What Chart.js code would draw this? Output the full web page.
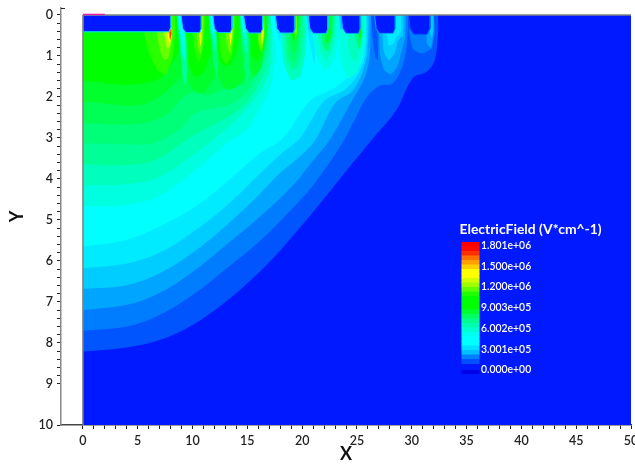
<!DOCTYPE html>
<html><head><meta charset="utf-8">
<style>html,body{margin:0;padding:0;background:#fff}#w{width:635px;height:465px}</style>
<script src="https://cdn.jsdelivr.net/npm/chart.js@4/dist/chart.umd.min.js"></script>
</head><body><div id="w"><canvas id="c" width="635" height="465"></canvas></div>
<script>
const xTickValues=[0,5,10,15,20,25,30,35,40,45,50];
const yTickValues=[0,1,2,3,4,5,6,7,8,9,10];
const xMinorValues=[1,2,3,4,6,7,8,9,11,12,13,14,16,17,18,19,21,22,23,24,26,27,28,29,31,32,33,34,36,37,38,39,41,42,43,44,46,47,48,49];
const yMinorValues=[.2,.4,.6,.8,1.2,1.4,1.6,1.8,2.2,2.4,2.6,2.8,3.2,3.4,3.6,3.8,4.2,4.4,4.6,4.8,5.2,5.4,5.6,5.8,6.2,6.4,6.6,6.8,7.2,7.4,7.6,7.8,8.2,8.4,8.6,8.8];
const legendTitle="ElectricField (V*cm^-1)";
const legendLabels=["1.801e+06","1.500e+06","1.200e+06","9.003e+05","6.002e+05","3.001e+05","0.000e+00"];
const bandColors=["#0019ff","#0055ff","#007dff","#00a5ff","#00cdff","#00ebff","#00ffff","#00ffe1","#00ffbe","#00ff96","#00ff78","#00ff55","#00ff2d","#00ff00","#28ff00","#64ff00","#b4ff00","#ffff00","#ffbe00","#ff6e00","#ff1e00"];
const colorbarStops=["#ff0000","#ff0a00","#ff3000","#ff7000","#ffa000","#ffd000","#ffff00","#ffff00","#d0ff00","#a0ff00","#60ff00","#20ff00","#00ff00","#00ff00","#00ff00","#00ff30","#00ff60","#00ff90","#00ffb0","#00ffd0","#00fff0","#00ffff","#00ffff","#00e0ff","#00c0ff","#0080ff","#0050ff"];

const plotArea=[[0,10],[50,10],[50,0],[0,0]];
/* main contours, each running from the left edge to the top edge */
const c1=[[0,8.21],[4,8.11],[7,7.93],[10,7.56],[13,7],[16,6.3],[18.3,5.65],[21.3,4.71],[24.4,3.68],[26.5,3.0],[28.6,2.32],[30.1,1.54],[31.4,1.38],[32.1,1.1],[32.4,.45],[32.4,0]];
const c2=[[0,7.7],[4,7.6],[7,7.32],[10,6.83],[13,6.2],[16,5.55],[19,4.75],[21,4.15],[23.6,3.15],[24.8,2.55],[25.9,2],[27.1,1.72],[28.2,1.68],[29,1.35],[29.5,.85],[29.65,.3],[29.65,0]];
const c3=[[0,7.2],[4,7.07],[7,6.78],[10,6.27],[13,5.62],[16,4.95],[19,4.2],[21,3.55],[22.5,3.05],[24.6,2.07],[25.6,1.6],[26.05,1.2],[26.2,.9],[26.25,0]];
const c4=[[0,6.68],[4,6.59],[7,6.3],[10,5.8],[13,5.15],[16,4.4],[18,3.85],[20,3.4],[21.2,3.05],[23,2.15],[24.6,1.85],[25.5,1.4],[25.95,.9],[26.05,0]];
const c5=[[0,6.18],[4,6.06],[7,5.8],[10,5.3],[13,4.68],[16,3.9],[18,3.4],[19.8,3],[22,2.1],[24,1.8],[25.3,1.35],[25.8,.9],[25.85,0]];
const c6=[[0,5.65],[4,5.49],[7,5.16],[10,4.72],[13,4.1],[16,3.4],[18.25,3],[20.7,2.1],[23.1,1.75],[25.2,1.25],[25.6,.9],[25.6,0]];
const c7=[[0,4.66],[3.98,4.63],[7,4.4],[10,3.85],[13,3.15],[14.9,2.8],[16,2.35],[17,1.85],[17.5,1.2],[17.6,.5],[17.5,0]];
const c8=[[0,4.15],[3.98,4.13],[7,3.95],[10,3.43],[13,2.8],[14.7,2.35],[16.1,1.9],[17,1.4],[17.25,.5],[17.25,0]];
const c9=[[0,3.64],[3.98,3.66],[6.5,3.55],[9.5,3.03],[11,2.8],[12.5,2.6],[14.5,2.25],[16,1.7],[16.9,1.1],[17.1,.4],[17.1,0]];
const c10=[[0,3.13],[3.98,3.15],[6.4,3.13],[8.8,2.8],[10.2,2.4],[11.5,2.3],[13.2,2.2],[14.7,1.95],[16,1.45],[16.7,.9],[16.9,0]];
const c11=[[0,2.64],[5,2.66],[7.5,2.45],[9.2,2],[10,1.9],[11.5,1.95],[12.5,1.85],[13.5,1.75],[15,1.65],[16.2,1.1],[16.7,0]];
const c12=[[0,2.11],[5,2.2],[7.2,1.95],[8.7,1.6],[9.3,1.45],[10,1.8],[11,1.9],[11.8,1.6],[12.3,1.5],[13,1.8],[14,1.75],[15,1.4],[15.9,.8],[16.2,0]];
const c13=[[0,1.6],[4,1.7],[7,1.55],[8.3,1.1],[8.9,.9],[9.5,1.1],[10.2,1.5],[11,1.4],[11.6,1],[12.2,.9],[12.7,1.2],[13.5,1.2],[14.1,.8],[14.3,0]];
/* closed lobes under the contacts */
const r9a=[[29.8,.2],[29.8,.49],[30.1,.83],[30.9,.94],[31.8,.82],[32.1,.41],[32,0],[31.65,0]];
const r9b=[[31.3,.3],[31.4,.7],[31.75,.8],[31.95,.5],[32,0],[31.65,0]];
const r9c=[[31.65,0],[31.95,0],[31.95,.4],[31.8,.55],[31.65,.4]];
const s7a=[[26.3,0],[26.75,0],[26.88,.6],[26.92,1.1],[26.7,1.05],[26.45,.6]];
const r8b=[[27,.4],[27.1,1],[27.5,1.35],[28.1,1.45],[28.7,1.25],[29.1,.85],[29.4,.5],[29.4,0],[28.5,0]];
const r8c=[[27.3,.4],[27.45,.9],[27.9,1.1],[28.4,.95],[28.8,.6],[29.2,.5],[29.2,0],[28.5,0]];
const r8d=[[27.7,.4],[27.9,.75],[28.3,.7],[28.6,.55],[29,.4],[29,0],[28.5,0]];
const r7a=[[23.3,.4],[23.5,1.1],[24.2,1.55],[25,1.4],[25.6,.9],[25.85,.4],[25.8,0],[25.3,0]];
const r7b=[[24.1,.4],[24.3,.95],[24.9,1.15],[25.4,.7],[25.6,.3],[25.55,0],[25.3,0]];
const r7c=[[24.8,.4],[25,.7],[25.25,.85],[25.45,.55],[25.45,0],[25.3,0]];
const r7d=[[25.2,.4],[25.25,.65],[25.4,.45],[25.4,0],[25.3,0]];
const r6a=[[21,.4],[21.3,.98],[22.2,1.35],[23,1.05],[23.3,.6],[23.3,0],[22.35,0]];
const r6b=[[21.4,.4],[21.6,.85],[22.2,1.1],[22.8,.85],[23.05,.4],[23.1,0],[22.35,0]];
const r6c=[[21.7,.4],[21.9,.75],[22.3,.9],[22.7,.6],[22.9,.3],[22.9,0],[22.35,0]];
const r6d=[[22,.4],[22.2,.7],[22.55,.6],[22.7,.3],[22.7,0],[22.35,0]];
const r5a=[[18.1,.4],[18.3,1.15],[19,1.6],[19.8,1.5],[20.25,1],[20.4,.4],[20.3,0],[19.35,0]];
const r5b=[[18.4,.4],[18.6,1.05],[19.1,1.35],[19.7,1.25],[20,.8],[20.1,0],[19.35,0]];
const r5c=[[18.6,.4],[18.75,.95],[19.15,1.2],[19.6,1],[19.85,.5],[19.9,0],[19.35,0]];
const r5d=[[18.8,.4],[18.95,.8],[19.3,.95],[19.6,.7],[19.75,.3],[19.8,0],[19.35,0]];
const r5e=[[19.05,.4],[19.2,.65],[19.5,.55],[19.65,.2],[19.65,0],[19.35,0]];
const r5f=[[19.3,.42],[19.4,.6],[19.55,.4],[19.5,0],[19.35,0]];
const r4a=[[14.9,.4],[15,1.1],[15.6,1.5],[16.2,1.3],[16.7,.7],[16.9,0],[16.4,0]];
const r4b=[[15.3,.4],[15.4,.95],[15.9,1.15],[16.4,.85],[16.7,.35],[16.7,0],[16.4,0]];
const r4c=[[15.95,.4],[16.05,.75],[16.3,.9],[16.55,.5],[16.55,0],[16.4,0]];
const r4d=[[16.25,.42],[16.35,.72],[16.48,.45],[16.48,.2],[16.4,.2]];
const r3a=[[12.4,.4],[12.6,1],[13.1,1.2],[13.6,.95],[13.85,.4],[13.9,0],[13.6,0]];
const r3b=[[13,.4],[13.15,.75],[13.45,.95],[13.7,.5],[13.75,0],[13.6,0]];
const r3c=[[13.35,.42],[13.45,.75],[13.62,.45],[13.62,.2],[13.55,.2]];
const r2a=[[10,.4],[10.2,.9],[10.6,1.15],[11,.75],[11.1,.3],[11.1,0],[10.8,0]];
const r2b=[[10.35,.4],[10.5,.8],[10.75,.95],[10.95,.5],[11,0],[10.8,0]];
const r2c=[[10.6,.42],[10.72,.78],[10.86,.45],[10.86,.2],[10.78,.2]];
const r2d=[[10.72,.42],[10.78,.6],[10.85,.42]];
const r1a=[[5.5,.4],[6,.9],[6.8,1.35],[7.6,1.45],[8.2,1],[8.4,.5],[8.4,0],[8,0]];
const r1b=[[6.7,.4],[7,.85],[7.4,1.1],[7.8,1.05],[8.1,.65],[8.15,.2],[8.05,0]];
const r1c=[[7.4,.4],[7.55,.7],[7.75,.82],[8,.7],[8.15,.4],[8.05,.1]];
const r1d=[[7.7,.4],[7.78,.6],[7.92,.7],[8.08,.5],[8.1,.2],[8,.2]];
const r1e=[[7.8,.4],[7.88,.56],[8,.62],[8.12,.4],[8.1,.2],[8,.2]];
const r1f=[[7.85,.4],[7.95,.6],[8.08,.45],[8.05,.3],[7.95,.3]];
const r1g=[[7.95,.42],[8,.6],[8.05,.42]];
/* low-field streaks under the right side of each gap */
const s1a=[[8.55,0],[9.1,0],[9.45,.6],[9.5,1.4],[9.35,1.75],[9.1,1.5],[8.85,.8]];
const s1b=[[8.6,0],[9,0],[9.35,.6],[9.35,1.1],[9.1,1],[8.85,.5]];
const s1c=[[8.65,0],[8.9,0],[9.25,.5],[9.2,.7],[8.95,.45]];
const s2a=[[11.45,0],[11.9,0],[12.25,.6],[12.35,1.3],[12.2,1.55],[11.95,1.2],[11.65,.6]];
const s2b=[[11.5,0],[11.85,0],[12.15,.5],[12.15,.9],[11.95,.7],[11.65,.4]];
const s2c=[[11.55,0],[11.8,0],[12.05,.4],[11.85,.45]];
const s3a=[[14.3,0],[14.7,0],[15.15,.6],[15.2,1.4],[15,1.8],[14.7,1.3],[14.45,.6]];
const s3b=[[14.35,0],[14.65,0],[15,.5],[15,.95],[14.75,.75],[14.45,.4]];
const s3c=[[14.4,0],[14.6,0],[14.9,.4],[14.65,.45]];
const s4a=[[17.1,0],[17.6,0],[18.2,.5],[18.3,1.4],[18.2,1.8],[17.9,1.3],[17.5,.6],[17.2,.3]];
const s4b=[[17.45,0],[17.6,0],[18.05,.45],[18,.7],[17.7,.4]];
const s5a=[[20.35,0],[20.6,0],[21,.5],[21.2,1],[21.1,1.2],[20.8,.8],[20.5,.4]];
const s5b=[[20.45,0],[20.6,0],[20.9,.4],[20.65,.4]];
const s6a=[[23.3,0],[23.55,0],[24,.5],[24.2,1.1],[24,1.25],[23.7,.8],[23.4,.4]];
const s6b=[[23.35,0],[23.55,0],[23.95,.45],[24,.85],[23.8,.65],[23.5,.35]];
/* depleted contact blocks along the top */
const b1=[[0,0],[8.05,0],[8.05,.28],[7.85,.41],[0,.41]];
const b2=[[8.95,0],[10.8,0],[10.8,.33],[10.65,.43],[9.4,.43],[9.1,.33]];
const b3=[[11.85,0],[13.6,0],[13.6,.33],[13.45,.43],[12.3,.43],[12,.33]];
const b4=[[14.65,0],[16.4,0],[16.4,.33],[16.25,.44],[15.15,.44],[14.85,.33]];
const b5=[[17.55,0],[19.35,0],[19.35,.33],[19.2,.44],[18,.44],[17.7,.33]];
const b6=[[20.55,0],[22.35,0],[22.35,.33],[22.2,.45],[21,.45],[20.7,.33]];
const b7=[[23.55,0],[25.3,0],[25.3,.33],[25.15,.45],[24,.45],[23.7,.33]];
const b8=[[26.6,0],[28.5,0],[28.5,.33],[28.3,.45],[27.05,.45],[26.75,.33]];
const b9=[[29.7,0],[31.65,0],[31.65,.33],[31.4,.47],[30.15,.47],[29.85,.33]];

const contours=[[c1,1],[c2,2],[c3,3],[c4,4],[c5,5],[c6,6],[c7,7],[c8,8],[c9,9],[c10,10],[c11,11],[c12,12],[c13,13]];
const lobes=[[r9a,2],[r9b,3],[r9c,4],[s7a,1],[r8b,3],[r8c,4],[r8d,5],[s6a,5],[s6b,4],[r7a,7],[r7b,8],[r7c,10],[r7d,13],[s5a,5],[s5b,4],[r6a,7],[r6b,8],[r6c,10],[r6d,12],[s4a,6],[s4b,5],[r5a,8],[r5b,9],[r5c,10],[r5d,11],[r5e,13],[r5f,15],[r4a,12],[r4b,13],[r4c,15],[r4d,17],[s3a,10],[s3b,8],[s3c,6],[r3a,14],[r3b,15],[r3c,17],[s2a,10],[s2b,8],[s2c,6],[r2a,14],[r2b,15],[r2c,17],[r2d,18],[s1a,9],[s1b,7],[s1c,6],[r1a,14],[r1b,15],[r1c,16],[r1d,17],[r1e,18],[r1f,19],[r1g,20]];
const blocks=[[b1,5],[b2,4],[b3,4],[b4,4],[b5,4],[b6,4],[b7,3],[b8,3],[b9,1]];

const toPts=a=>a.map(p=>({x:p[0],y:p[1]}));
const base={showLine:true,pointRadius:0,pointHoverRadius:0,fill:'shape',borderWidth:0,borderColor:'transparent'};
const ds=[];
ds.push({...base,data:toPts(plotArea.concat([plotArea[0]])),backgroundColor:bandColors[0],tension:0});
contours.forEach(([a,k])=>{
  const last=a[a.length-1];
  const ring=[a[0],a[0],...a.slice(1,-1),last,last,[0,0],[0,0],a[0],a[0]];
  ds.push({...base,data:toPts(ring),backgroundColor:bandColors[k],tension:.35});
});
lobes.forEach(([a,k])=>{ds.push({...base,data:toPts(a.concat([a[0]])),backgroundColor:bandColors[k],tension:.15});});
blocks.forEach(([a,k])=>{ds.push({...base,data:toPts(a.concat([a[0]])),backgroundColor:bandColors[0],tension:0,borderWidth:1,borderColor:bandColors[k]});});
ds.forEach((d,i)=>{d.order=ds.length-i;});

const fontFam='Lato, sans-serif';
const framePlugin={id:'frame',
 beforeDatasetsDraw(ch){const {x,y}=ch.scales,c=ch.ctx;c.save();c.beginPath();
   const l=x.getPixelForValue(0),t=y.getPixelForValue(0);
   c.rect(l,t,x.right-l,y.bottom-t);c.clip();},
 afterDatasetsDraw(ch){const {x,y}=ch.scales,c=ch.ctx;c.restore();
   const l=x.getPixelForValue(0),t=y.getPixelForValue(0),r=x.right,b=y.bottom;
   c.save();
   c.lineWidth=1.5;c.strokeStyle='#808080';
   c.beginPath();c.moveTo(l,t);c.lineTo(r,t);c.moveTo(l,t);c.lineTo(l,b);c.stroke();
   c.strokeStyle='#e020b0';c.beginPath();c.moveTo(l,t-.5);c.lineTo(x.getPixelForValue(2),t-.5);c.stroke();
   c.lineWidth=1;c.strokeStyle='#222';c.beginPath();c.moveTo(x.left,y.top+.5);c.lineTo(x.left+4,y.top+.5);c.stroke();
   /* colour bar */
   const bx=461.5,bw=18,by=242,bs=4.5;
   colorbarStops.forEach((col,i)=>{c.fillStyle=col;c.fillRect(bx,by+i*bs,bw,bs+.5);});
   c.fillStyle='#0000e6';c.fillRect(bx,370,bw,4);
   c.fillStyle='#fff';c.textBaseline='middle';c.textAlign='left';
   c.font='700 13.9px '+fontFam;c.fillText(legendTitle,459.5,229.5);
   c.font='600 10.4px '+fontFam;
   legendLabels.forEach((t,i)=>c.fillText(t,481,245.5+i*20.75));
   c.restore();
 }};

new Chart(document.getElementById('c'),{
 type:'scatter',
 data:{datasets:ds},
 plugins:[framePlugin],
 options:{responsive:false,animation:false,events:[],
  layout:{padding:{top:8,right:4,left:0,bottom:0}},
  plugins:{legend:{display:false},tooltip:{enabled:false}},
  scales:{
   x:{type:'linear',min:-2,max:50,position:'bottom',
    afterBuildTicks(s){s.ticks=xTickValues.concat(xMinorValues).map(v=>({value:v,major:xTickValues.includes(v)})).sort((a,b)=>a.value-b.value);},
    afterFit(s){s.height=40;s.paddingLeft=0;s.paddingRight=0;},
    grid:{display:true,drawOnChartArea:false,drawTicks:true,tickLength:4,tickColor:'#222',tickWidth:1},
    border:{display:true,color:'#444',width:1.5},
    ticks:{autoSkip:false,maxRotation:0,minRotation:0,padding:4,color:'#222',font:{family:fontFam,size:12.5,weight:'600'},
      callback(v){return xTickValues.includes(v)?String(v):'';}},
    title:{display:true,text:'X',color:'#111',font:{family:fontFam,size:18,weight:'700'},padding:{top:0,bottom:0}}
   },
   y:{type:'linear',min:-.17,max:10,reverse:true,position:'left',
    afterBuildTicks(s){s.ticks=yTickValues.concat(yMinorValues).map(v=>({value:v,major:yTickValues.includes(v)})).sort((a,b)=>a.value-b.value);},
    afterFit(s){s.width=61;s.paddingTop=0;s.paddingBottom=0;},
    grid:{display:true,drawOnChartArea:false,drawTicks:true,tickLength:4,tickColor:'#222',tickWidth:1},
    border:{display:true,color:'#888',width:1.5},
    ticks:{autoSkip:false,padding:4,color:'#222',font:{family:fontFam,size:12.5,weight:'600'},
      callback(v){return yTickValues.includes(v)?String(v):'';}},
    title:{display:true,text:'Y',color:'#111',font:{family:fontFam,size:18,weight:'700'},padding:{top:6,bottom:0}}
   }
  }
 }
});
</script></body></html>
